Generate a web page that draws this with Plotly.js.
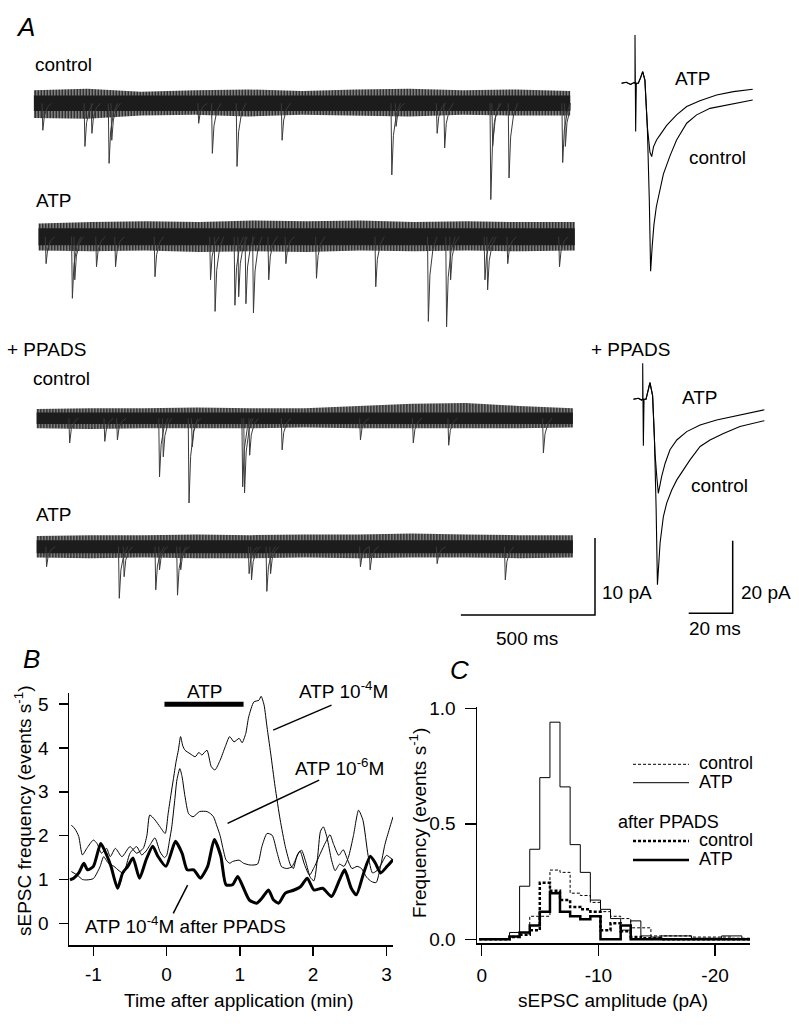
<!DOCTYPE html>
<html><head><meta charset="utf-8">
<script src="https://cdn.plot.ly/plotly-3.0.1.min.js"></script>
<style>html,body{margin:0;padding:0;background:#fff}#plot{width:799px;height:1026px}</style>
</head><body><div id="plot"></div>
<script>
// ================= DATA =================
// Panel A – raw traces: noise envelope (pA, relative to baseline) and sEPSC events [time ms, amplitude pA]
const sweepMs = 2000;
const noiseTimes = [0, 200, 400, 600, 800, 1000, 1200, 1400, 1600, 1800, 2000];
const noiseUp1 = [1.7, 1.9, 1.5, 1.7, 1.8, 1.6, 1.8, 1.9, 1.7, 1.8, 1.6];
const noiseLo1 = [-1.9, -2.0, -1.6, -1.5, -1.7, -1.5, -1.6, -1.7, -1.5, -1.6, -1.6];
const noiseCore1 = 1.0;
const noiseUp2 = [1.7, 1.9, 2.0, 1.9, 2.1, 2.0, 2.1, 1.9, 2.0, 1.9, 1.9];
const noiseLo2 = [-1.8, -1.9, -1.8, -2.0, -1.9, -2.0, -1.8, -1.9, -1.8, -1.9, -1.8];
const noiseCore2 = 1.1;
const noiseUp3 = [1.2, 1.3, 1.3, 1.4, 1.3, 1.3, 1.6, 1.9, 2.0, 1.6, 1.3];
const noiseLo3 = [-1.3, -1.4, -1.3, -1.3, -1.3, -1.2, -1.3, -1.3, -1.3, -1.3, -1.2];
const noiseCore3 = 0.75;
const noiseUp4 = [1.4, 1.5, 1.5, 1.6, 1.5, 1.6, 1.6, 1.7, 1.6, 1.5, 1.5];
const noiseLo4 = [-1.4, -1.5, -1.4, -1.5, -1.5, -1.4, -1.5, -1.4, -1.4, -1.5, -1.4];
const noiseCore4 = 0.85;

const eventsControl = [[31,3.5],[188,5.6],[214,3.9],[278,7.8],[288,4.8],[612,2.6],[663,6.5],[755,8.2],[923,4.8],[1332,9.3],[1348,3.0],[1501,3.9],[1529,5.8],[1701,12.5],[1708,5.6],[1769,9.7],[1969,7.7],[1979,5.6]];
const eventsATP = [[26,3.5],[124,8.0],[133,5.6],[214,3.9],[285,3.9],[432,5.2],[639,5.6],[656,9.7],[730,8.9],[744,7.8],[771,8.7],[799,9.9],[856,5.6],[920,3.5],[1034,5.4],[1255,6.5],[1451,11.0],[1519,11.7],[1534,5.6],[1662,5.6],[1672,6.9],[1747,3.5],[1940,3.9]];
const eventsPPADSControl = [[121,3.2],[252,3.0],[299,2.8],[456,7.6],[470,5.0],[566,11.0],[578,3.7],[766,8.9],[773,9.7],[792,4.8],[913,4.1],[1205,2.8],[1402,3.2],[1534,3.5],[1887,4.5]];
const eventsPPADSATP = [[35,2.6],[306,6.7],[324,3.9],[442,5.6],[456,3.0],[523,6.3],[535,3.0],[790,3.5],[799,4.3],[856,5.8],[870,3.5],[1205,2.6],[1241,3.0],[1491,2.2],[1745,4.3]];
// sEPSC waveform template (ms offsets, fraction of peak)
const spikeOffsetsMs = [0, 3, 9, 20, 35];
const spikeFrac = [0, 1, 0.45, 0.15, 0];

const scaleBarA = {ms: 500, pA: 10};

// Panel A – averaged sEPSCs [time ms, current pA]
const avgControl = [[-6.1,0],[-4,0.3],[-2,-0.3],[-0.5,0.2],[0,0],[0,13.3],[0.3,-13.3],[0.6,0],[1.5,0],[2.5,1.5],[3.5,3.2],[4.5,0.9],[5.6,-11.9],[6.5,-32.1],[7.1,-51.8],[7.8,-45],[8.6,-39],[9.7,-34],[11.2,-30],[12.9,-25],[15.9,-20],[18.9,-15.6],[23.5,-11.0],[28.0,-8.7],[34.1,-6.9],[41.7,-6.0],[47.7,-5.3],[53.5,-4.6]];
const avgATP = [[-6.1,0],[-4,0.3],[-2,-0.3],[-0.5,0.2],[0,0],[1.5,0],[2.5,1.5],[3.5,3.2],[4.5,0.9],[5.6,-11.9],[6.8,-19.0],[7.6,-20.2],[8.4,-17.5],[9.8,-15.6],[11.4,-14.2],[14.4,-11.6],[18.9,-8.7],[23.5,-6.4],[29.5,-4.8],[37.1,-3.2],[44.7,-2.3],[53.5,-1.65]];
const avgPPADSControl = [[-4.2,0],[-2,0.3],[-0.5,-0.2],[0,0],[0,9.9],[0.3,-12.8],[0.6,0],[1.5,0],[2.5,2.5],[3.3,4.6],[4.5,1.0],[5.3,-10],[6.1,-30],[6.7,-51.1],[7.9,-39.6],[9.4,-32.3],[10.9,-28.6],[13.2,-25],[15.5,-22.2],[18.5,-19.4],[21.5,-16.7],[26.1,-13.0],[30.6,-11.2],[36.7,-9.4],[44.2,-7.5],[55.3,-5.9]];
const avgPPADSATP = [[-4.2,0],[-2,0.3],[-0.5,-0.2],[0,0],[1.5,0],[2.5,2.5],[3.3,4.6],[4.5,1.0],[5.6,-14.9],[6.4,-21.3],[7.1,-25.9],[8.6,-21.3],[10.2,-17.6],[12.4,-13.9],[15.5,-11.2],[20,-8.9],[26.1,-7.1],[33.6,-5.7],[44.2,-4.3],[55.3,-2.9]];
const scaleBarAvg = {ms: 20, pA: 20};

// Panel B – sEPSC frequency [time min, events/s]
const freqATP4 = [[-1.3,2.24],[-1.25,2.15],[-1.2,1.98],[-1.15,1.56],[-1.09,1.71],[-1.0,1.9],[-0.95,1.82],[-0.89,1.6],[-0.82,1.71],[-0.77,1.52],[-0.7,1.71],[-0.61,1.52],[-0.5,1.75],[-0.41,1.6],[-0.32,1.71],[-0.27,2.0],[-0.23,2.47],[-0.16,2.36],[-0.09,2.2],[-0.02,2.05],[0.02,2.5],[0.06,2.95],[0.09,3.27],[0.13,3.7],[0.16,3.95],[0.19,4.26],[0.22,4.05],[0.25,3.95],[0.32,3.87],[0.39,3.8],[0.44,3.9],[0.48,3.84],[0.55,3.95],[0.61,3.57],[0.66,3.5],[0.73,3.72],[0.8,4.03],[0.86,4.26],[0.92,4.14],[0.99,4.22],[1.03,4.12],[1.08,4.33],[1.12,4.71],[1.19,5.05],[1.26,5.09],[1.29,5.18],[1.33,4.98],[1.37,4.48],[1.42,3.88],[1.48,3.12],[1.55,2.36],[1.62,1.75],[1.69,1.33],[1.73,1.25],[1.78,1.55],[1.84,1.67],[1.9,1.4],[1.96,1.05],[2.01,0.97],[2.06,1.5],[2.1,2.1],[2.14,2.2],[2.19,1.95],[2.25,1.45],[2.3,1.2],[2.36,1.35],[2.42,1.3],[2.48,1.5],[2.55,2.0],[2.62,2.58],[2.68,2.35],[2.75,1.55],[2.81,1.15],[2.87,1.2],[2.93,1.35],[3.0,1.55],[3.05,1.5],[3.09,1.45]];
const freqATP6 = [[-1.3,1.18],[-1.22,1.1],[-1.15,1.0],[-1.09,0.99],[-1.0,1.02],[-0.91,1.29],[-0.86,1.52],[-0.8,1.38],[-0.72,1.3],[-0.65,1.2],[-0.59,1.14],[-0.5,1.6],[-0.41,1.75],[-0.34,1.56],[-0.28,1.65],[-0.23,1.78],[-0.16,1.95],[-0.09,1.63],[-0.03,1.5],[0.0,1.55],[0.04,1.9],[0.07,2.2],[0.11,2.8],[0.14,3.27],[0.18,3.53],[0.21,3.35],[0.25,2.9],[0.3,2.5],[0.36,2.43],[0.45,2.55],[0.55,2.55],[0.6,2.5],[0.64,2.43],[0.69,2.2],[0.73,2.0],[0.77,1.7],[0.81,1.45],[0.86,1.37],[0.9,1.41],[0.99,1.44],[1.05,1.37],[1.14,1.33],[1.24,1.35],[1.3,1.75],[1.37,2.05],[1.44,2.01],[1.51,1.6],[1.57,1.29],[1.64,1.25],[1.71,1.29],[1.76,1.45],[1.82,1.65],[1.88,1.35],[1.95,1.1],[2.02,1.3],[2.1,1.6],[2.17,1.85],[2.23,2.02],[2.28,1.8],[2.35,1.55],[2.41,1.68],[2.47,1.45],[2.53,1.25],[2.6,1.3],[2.66,1.25],[2.73,1.05],[2.8,0.95],[2.86,0.93],[2.92,1.3],[2.98,1.8],[3.04,2.15],[3.09,2.43]];
const freqPPADS = [[-1.32,0.99],[-1.27,1.03],[-1.2,1.15],[-1.13,1.37],[-1.08,1.22],[-1.0,1.3],[-0.9,1.82],[-0.83,1.6],[-0.76,1.3],[-0.67,0.8],[-0.6,1.15],[-0.53,1.3],[-0.46,1.49],[-0.37,1.03],[-0.28,1.45],[-0.19,1.76],[-0.12,1.53],[-0.01,1.3],[0.06,1.6],[0.12,1.87],[0.21,1.6],[0.28,1.22],[0.37,1.22],[0.46,1.03],[0.56,1.3],[0.65,1.91],[0.74,1.53],[0.81,0.88],[0.9,0.88],[0.97,1.07],[1.04,0.84],[1.13,0.53],[1.23,0.46],[1.3,0.57],[1.39,0.76],[1.46,0.53],[1.53,0.46],[1.62,0.69],[1.74,0.76],[1.83,0.84],[1.92,1.03],[2.01,0.76],[2.13,0.8],[2.25,0.61],[2.36,0.99],[2.43,1.22],[2.52,0.8],[2.59,0.65],[2.69,1.15],[2.78,1.53],[2.85,1.37],[2.92,1.15],[3.01,1.3],[3.09,1.45]];
const atpApplication = [-0.03, 1.05];   // min
const atpBarLevel = 5.0;

// Panel C – amplitude histograms (bin edges in pA, frequency per bin in events/s)
const binEdges = [0.21,-0.66,-1.52,-2.39,-3.25,-4.12,-4.98,-5.85,-6.71,-7.58,-8.45,-9.31,-10.18,-11.04,-11.91,-12.77,-13.64,-14.5,-15.37,-16.23,-17.1,-17.97,-18.83,-19.7,-20.56,-21.43,-22.29,-23.16];
const histControl = [0,0,0,0.01,0.03,0.10,0.10,0.30,0.29,0.20,0.19,0.16,0.12,0.10,0.09,0.05,0.05,0.015,0.015,0.015,0.015,0.01,0.01,0.01,0.01,0.005,0.005];
const histATP = [0,0,0,0.03,0.23,0.39,0.70,0.94,0.66,0.41,0.29,0.17,0.13,0.09,0.04,0.08,0.015,0.01,0.015,0.015,0.015,0.005,0.005,0.005,0.015,0.015,0];
const histPPADSControl = [0,0,0,0.01,0.02,0.04,0.245,0.21,0.17,0.14,0.13,0.12,0.04,0.07,0.035,0.01,0.005,0.005,0,0,0,0,0,0,0,0,0];
const histPPADSATP = [0,0,0,0.012,0.03,0.06,0.12,0.20,0.12,0.10,0.087,0.10,0,0,0.06,0,0,0,0,0,0,0,0,0,0,0,0];

const ticksB_x = [-1,0,1,2,3];
const ticksB_y = [0,1,2,3,4,5];
const ticksC_x = [0,-10,-20];
const ticksC_xText = ['0','-10','-20'];
const ticksC_y = [0,0.5,1];
const ticksC_yText = ['0.0','0.5','1.0'];

// ================= DRAWING =================
const W = 799, H = 1026;
const FONT = 'Liberation Sans, Arial, Helvetica, sans-serif';
const px = v => v / W;
const py = v => 1 - v / H;
const traces = [];
const layout = {
  width: W, height: H, margin: {l:0, r:0, t:0, b:0},
  paper_bgcolor: '#fff', plot_bgcolor: 'rgba(0,0,0,0)', showlegend: false,
  font: {family: FONT, size: 19, color: '#000'},
  shapes: [], annotations: []
};

// ---- Panel A raw traces ----
const pxPerMs = 0.26825, pxPerPA = 7.7;
const rawStarts = [33.7, 38.3, 36.4, 36.4];
const rawCenters = [103.3, 236.7, 418.3, 546.7];
const rawSets = [
  [noiseUp1, noiseLo1, noiseCore1, eventsControl],
  [noiseUp2, noiseLo2, noiseCore2, eventsATP],
  [noiseUp3, noiseLo3, noiseCore3, eventsPPADSControl],
  [noiseUp4, noiseLo4, noiseCore4, eventsPPADSATP]
];
rawSets.forEach((set, i) => {
  const n = i + 3;
  const x0 = rawStarts[i], c = rawCenters[i];
  layout['xaxis' + n] = {domain: [px(x0), px(x0 + 2150 * pxPerMs)], range: [0, 2150], visible: false, anchor: 'y' + n, fixedrange: true};
  layout['yaxis' + n] = {domain: [py(c + 100), py(c - 25)], range: [-100 / pxPerPA, 25 / pxPerPA], visible: false, anchor: 'x' + n, fixedrange: true};
  const [up, lo, core, ev] = set;
  const tRev = noiseTimes.slice().reverse();
  traces.push({
    type: 'scatter', mode: 'lines', xaxis: 'x' + n, yaxis: 'y' + n,
    x: noiseTimes.concat(tRev), y: up.concat(lo.slice().reverse()),
    fill: 'toself', fillcolor: '#777', line: {width: 0}, hoverinfo: 'skip',
    fillpattern: {shape: '|', fgcolor: '#111', bgcolor: '#b0b0b0', size: 3, solidity: 0.55}
  });
  traces.push({
    type: 'scatter', mode: 'lines', xaxis: 'x' + n, yaxis: 'y' + n,
    x: noiseTimes.concat(tRev), y: noiseTimes.map(() => core).concat(noiseTimes.map(() => -core)),
    fill: 'toself', fillcolor: '#1c1c1c', line: {width: 0}, hoverinfo: 'skip'
  });
  const sx = [], sy = [];
  ev.forEach(([t, a]) => {
    spikeOffsetsMs.forEach((o, k) => { sx.push(Math.min(t + o, sweepMs)); sy.push(-a * spikeFrac[k]); });
    sx.push(null); sy.push(null);
  });
  traces.push({type: 'scatter', mode: 'lines', xaxis: 'x' + n, yaxis: 'y' + n, x: sx, y: sy,
    line: {color: '#3a3a3a', width: 1}, hoverinfo: 'skip'});
});
// scale bar on trace 4 axes
{
  const xb = (595 - 36.4) / pxPerMs, yb = (546.7 - 615) / pxPerPA;
  traces.push({type: 'scatter', mode: 'lines', xaxis: 'x6', yaxis: 'y6',
    x: [xb - scaleBarA.ms, xb, xb], y: [yb, yb, yb + scaleBarA.pA],
    line: {color: '#000', width: 1.5}, hoverinfo: 'skip'});
}

// ---- Panel A averaged sEPSCs ----
const avgPxMs = 2.2, avgPxPA = 3.63;
const avgDefs = [
  {n: 7, t0: 635, base: 83.3, sets: [avgControl, avgATP]},
  {n: 8, t0: 642.7, base: 399.3, sets: [avgPPADSControl, avgPPADSATP]}
];
avgDefs.forEach(d => {
  layout['xaxis' + d.n] = {domain: [px(612), px(775)], range: [(612 - d.t0) / avgPxMs, (775 - d.t0) / avgPxMs], visible: false, anchor: 'y' + d.n, fixedrange: true};
  layout['yaxis' + d.n] = {domain: [py(d.base + 230), py(d.base - 60)], range: [-230 / avgPxPA, 60 / avgPxPA], visible: false, anchor: 'x' + d.n, fixedrange: true};
  d.sets.forEach(s => traces.push({type: 'scatter', mode: 'lines', xaxis: 'x' + d.n, yaxis: 'y' + d.n,
    x: s.map(p => p[0]), y: s.map(p => p[1]), line: {color: '#000', width: 1.1}, hoverinfo: 'skip'}));
});
{
  const xb = (732.7 - 642.7) / avgPxMs, yb = (399.3 - 613.3) / avgPxPA;
  traces.push({type: 'scatter', mode: 'lines', xaxis: 'x8', yaxis: 'y8',
    x: [xb - scaleBarAvg.ms, xb, xb], y: [yb, yb, yb + scaleBarAvg.pA],
    line: {color: '#000', width: 1.5}, hoverinfo: 'skip'});
}

// ---- Panel B ----
const axisCommon = {ticks: 'outside', ticklen: 9, tickwidth: 1.5, tickcolor: '#000', showline: true, linewidth: 1.5,
  linecolor: '#000', showgrid: false, zeroline: false, tickfont: {family: FONT, size: 19, color: '#000'}, fixedrange: true};
layout.xaxis = Object.assign({}, axisCommon, {domain: [px(69), px(393)], range: [-1.333, 3.09], anchor: 'y',
  tickvals: ticksB_x, ticktext: ticksB_x.map(String), ticklabelstandoff: 3});
layout.yaxis = Object.assign({}, axisCommon, {domain: [py(945), py(693)], range: [-0.495, 5.255], anchor: 'x',
  tickvals: ticksB_y, ticktext: ticksB_y.map(String), ticklabelstandoff: 6});
[[freqATP4, 1], [freqATP6, 1], [freqPPADS, 3]].forEach(([s, w]) => traces.push({
  type: 'scatter', mode: 'lines', xaxis: 'x', yaxis: 'y', x: s.map(p => p[0]), y: s.map(p => p[1]),
  line: {color: '#000', width: w, shape: 'spline', smoothing: 0.6}, hoverinfo: 'skip'}));
traces.push({type: 'scatter', mode: 'lines', xaxis: 'x', yaxis: 'y', x: atpApplication, y: [atpBarLevel, atpBarLevel],
  line: {color: '#000', width: 5}, hoverinfo: 'skip'});
[[2.251, 4.978, 1.454, 4.408], [2.082, 3.268, 0.832, 2.28], [0.09, 0.228, 0.286, 0.873]].forEach(([a, b, c, d]) =>
  layout.shapes.push({type: 'line', xref: 'x', yref: 'y', x0: a, y0: b, x1: c, y1: d, line: {color: '#000', width: 1.5}}));

// ---- Panel C ----
layout.xaxis2 = Object.assign({}, axisCommon, {domain: [px(477), px(750)], range: [0.40, -22.99], anchor: 'y2',
  tickvals: ticksC_x, ticktext: ticksC_xText, ticklen: 11, ticklabelstandoff: 3});
layout.yaxis2 = Object.assign({}, axisCommon, {domain: [py(943.3), py(706.7)], range: [-0.017, 1.007], anchor: 'x2',
  tickvals: ticksC_y, ticktext: ticksC_yText, ticklen: 11, ticklabelstandoff: 5});
const histStyle = [
  [histControl, {color: '#000', width: 1, dash: '3px,2px'}],
  [histATP, {color: '#000', width: 1}],
  [histPPADSControl, {color: '#000', width: 2.5, dash: '3px,2px'}],
  [histPPADSATP, {color: '#000', width: 2.5}]
];
histStyle.forEach(([v, ln]) => traces.push({type: 'scatter', mode: 'lines', xaxis: 'x2', yaxis: 'y2',
  x: binEdges, y: v.concat([v[v.length - 1]]), line: Object.assign({shape: 'hv'}, ln), hoverinfo: 'skip'}));
// legend
[[764.3, {width: 1, dash: '3px,2px'}, 'control'], [782.7, {width: 1}, 'ATP'],
 [841, {width: 2.5, dash: '3px,2px'}, 'control'], [860, {width: 2.5}, 'ATP']].forEach(([y, ln, t]) => {
  layout.shapes.push({type: 'line', xref: 'paper', yref: 'paper', x0: px(633), x1: px(689), y0: py(y), y1: py(y),
    line: Object.assign({color: '#000'}, ln)});
  layout.annotations.push({xref: 'paper', yref: 'paper', x: px(697), y: py(y - 1), xanchor: 'left', yanchor: 'middle',
    text: t, showarrow: false, font: {size: 18}});
});

// ---- text ----
const txt = (x, y, t, opt) => layout.annotations.push(Object.assign({xref: 'paper', yref: 'paper', x: px(x), y: py(y),
  xanchor: 'left', yanchor: 'middle', text: t, showarrow: false, font: {size: 19}}, opt || {}));
txt(14, 27, '<i>A</i>', {font: {size: 26}});
txt(21, 659, '<i>B</i>', {font: {size: 26}});
txt(448, 670, '<i>C</i>', {font: {size: 26}});
txt(33, 64, 'control');
txt(34, 200, 'ATP');
txt(5, 350, '+ PPADS');
txt(31, 378, 'control');
txt(34, 514, 'ATP');
txt(673, 79, 'ATP');
txt(687, 157, 'control');
txt(589, 350, '+ PPADS');
txt(680, 398, 'ATP');
txt(689, 485, 'control');
txt(600, 592, '10 pA');
txt(739, 592, '20 pA');
txt(687, 628, '20 ms');
txt(494, 638, '500 ms');
txt(185, 691, 'ATP');
txt(297, 690, 'ATP 10<sup>-4</sup>M');
txt(293, 767, 'ATP 10<sup>-6</sup>M');
txt(83, 925, 'ATP 10<sup>-4</sup>M after PPADS');
txt(616, 822, 'after PPADS', {font: {size: 18}});
txt(238, 1000, 'Time after application (min)', {xanchor: 'center'});
txt(613, 1000, 'sEPSC amplitude (pA)', {xanchor: 'center'});
txt(23, 811, 'sEPSC frequency (events s<sup>-1</sup>)', {xanchor: 'center', textangle: -90});
txt(418, 823, 'Frequency (events s<sup>-1</sup>)', {xanchor: 'center', textangle: -90});

Plotly.newPlot('plot', traces, layout, {staticPlot: true, displayModeBar: false});
</script></body></html>
